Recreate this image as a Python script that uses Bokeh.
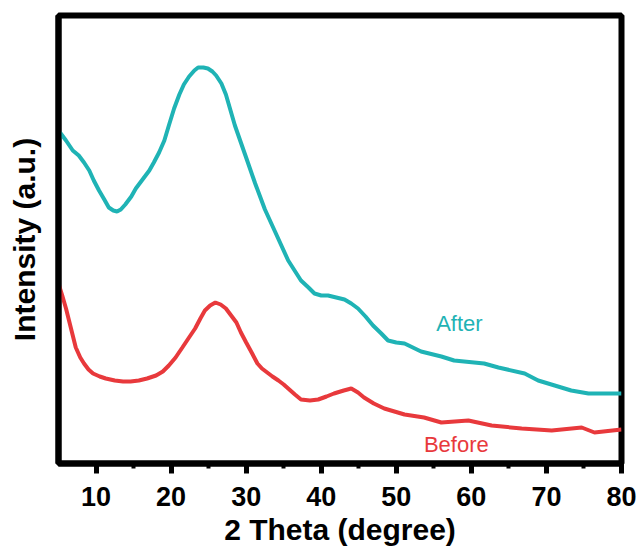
from bokeh.plotting import figure
from bokeh.models import Label, FixedTicker, Range1d
from bokeh.embed import file_html
from bokeh.resources import INLINE

# 2-theta positions (degree) and intensities (a.u.)
theta_after = [5.0, 6.0, 6.9, 7.7, 8.4, 9.1, 9.7, 10.4, 11.1, 11.7, 12.3, 12.8, 13.3, 13.9,
               14.7, 15.3, 16.3, 17.1, 17.7, 18.4, 19.1, 19.7, 20.4, 21.1, 21.7, 22.4,
               23.1, 23.6, 24.3, 24.9, 25.5, 26.0, 26.7, 27.3, 28.5, 29.9, 31.2, 32.5,
               33.9, 35.6, 37.3, 38.3, 39.1, 40.0, 40.9, 42.0, 43.1, 44.0, 44.9, 45.9,
               46.9, 48.0, 48.9, 50.0, 51.1, 53.3, 56.0, 57.7, 61.7, 63.6, 67.1, 68.9,
               71.1, 73.3, 75.6, 80.0]
int_after = [333, 323, 313, 308, 301, 293, 283, 273, 264, 256, 253, 252, 254, 259,
             267, 275, 285, 293, 301, 311, 323, 338, 355, 369, 379, 387,
             393, 396, 396, 395, 392, 388, 380, 369, 338, 308, 280, 254,
             231, 203, 183, 176, 170, 168, 168, 166, 164, 160, 155, 147,
             138, 130, 123, 121, 120, 112, 107, 103, 100, 96, 90, 83,
             78, 73, 70, 70]

theta_before = [5.0, 5.5, 6.0, 6.4, 6.9, 7.3, 7.9, 8.4, 9.0, 9.6, 10.5, 11.3, 12.5, 13.6,
                14.6, 15.7, 16.8, 18.0, 18.9, 19.7, 20.6, 21.5, 22.3, 23.2, 23.9, 24.5,
                25.2, 25.9, 26.6, 27.3, 28.0, 28.7, 29.3, 30.0, 30.8, 31.5, 32.1, 32.8,
                33.5, 34.3, 35.0, 35.6, 36.5, 37.3, 38.5, 39.6, 40.7, 41.7, 43.0, 44.0,
                44.9, 45.7, 47.0, 48.4, 51.1, 53.7, 56.0, 59.6, 62.7, 66.7, 70.7, 74.7,
                76.4, 80.0]
int_before = [180, 168, 155, 143, 128, 116, 106, 100, 94, 90, 87, 85, 83, 82,
              82, 83, 85, 88, 92, 98, 106, 116, 125, 135, 145, 153,
              158, 161, 159, 155, 148, 141, 131, 121, 110, 100, 95, 91,
              87, 83, 79, 75, 69, 64, 63, 64, 67, 70, 73, 75,
              71, 66, 60, 55, 49, 46, 41, 43, 38, 35, 33, 36,
              31, 34]

x_ticks = [10, 20, 30, 40, 50, 60, 70, 80]
x_minor_ticks = [15, 25, 35, 45, 55, 65, 75]

CYAN = "#1FB3B5"
RED = "#E8393C"
FONT = "Liberation Sans"

p = figure(width=641, height=549, output_backend="svg", toolbar_location=None,
           x_range=Range1d(5, 80), y_range=Range1d(0, 448),
           min_border_left=58, min_border_right=20, min_border_top=15, min_border_bottom=86)

p.line(theta_after, int_after, line_color=CYAN, line_width=4)
p.line(theta_before, int_before, line_color=RED, line_width=4)

p.add_layout(Label(x=58.4, y=140, text="After", text_color=CYAN, text_font=FONT,
                   text_font_size="22px", text_align="center", text_baseline="middle"))
p.add_layout(Label(x=58.0, y=19, text="Before", text_color=RED, text_font=FONT,
                   text_font_size="22px", text_align="center", text_baseline="middle"))

p.grid.visible = False
p.outline_line_color = "black"
p.outline_line_width = 6
p.outline_line_alpha = 1.0

xa = p.xaxis[0]
xa.ticker = FixedTicker(ticks=x_ticks, minor_ticks=x_minor_ticks)
xa.axis_label = "2 Theta (degree)"
xa.axis_label_text_font = FONT
xa.axis_label_text_font_style = "bold"
xa.axis_label_text_font_size = "30px"
xa.axis_label_text_color = "black"
xa.axis_label_standoff = 4
xa.major_label_text_font = FONT
xa.major_label_text_font_style = "bold"
xa.major_label_text_font_size = "27px"
xa.major_label_text_color = "black"
xa.major_label_standoff = 13
xa.axis_line_width = 6
xa.axis_line_color = "black"
xa.major_tick_in = 0
xa.major_tick_out = 10
xa.major_tick_line_width = 5
xa.minor_tick_in = 0
xa.minor_tick_out = 5
xa.minor_tick_line_width = 4

ya = p.yaxis[0]
ya.ticker = FixedTicker(ticks=[])
ya.axis_label = "Intensity (a.u.)"
ya.axis_label_text_font = FONT
ya.axis_label_text_font_style = "bold"
ya.axis_label_text_font_size = "30px"
ya.axis_label_text_color = "black"
ya.axis_label_standoff = 18
ya.major_label_text_font_size = "0px"
ya.axis_line_width = 6
ya.major_tick_line_color = None
ya.minor_tick_line_color = None

open("out.html", "w").write(file_html(p, INLINE))
